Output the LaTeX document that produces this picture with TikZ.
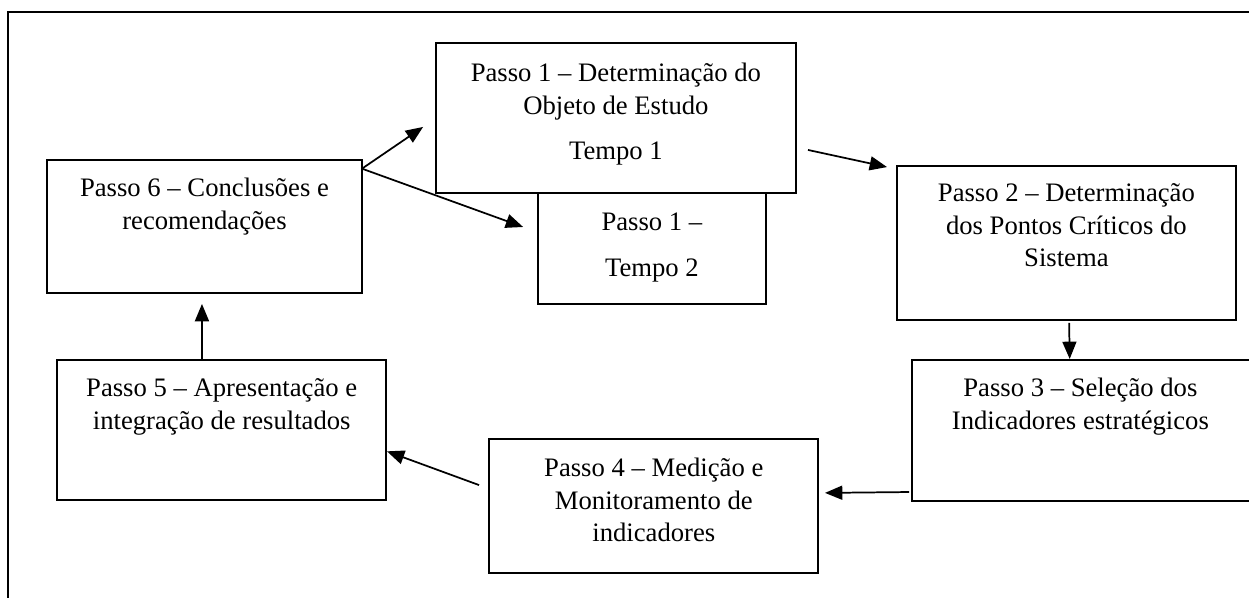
\documentclass[tikz,border=0pt]{standalone}
\usepackage{fontspec}
\setmainfont{Liberation Serif}
\usetikzlibrary{arrows.meta,calc}
\begin{document}
\begin{tikzpicture}[x=0.75pt,y=-0.75pt,
  box/.style={draw, line width=1.5pt, fill=white, inner sep=0pt, outer sep=0pt},
  txt/.style={anchor=north, align=center, inner sep=0pt, font=\fontsize{20}{24.4}\selectfont},
  arr/.style={line width=1.3pt, -{Triangle[length=13pt,width=10.5pt]}}]
\useasboundingbox (0,0) rectangle (1249,598);
\fill[white] (0,0) rectangle (1249,598);
\clip (0,0) rectangle (1249,598);
% outer frame
\draw[line width=1.6pt] (8,620) -- (8,11.7) -- (1270,11.7);
% boxes
\node[box, minimum width=171.2pt, minimum height=89.25pt] (b1b) at (651.9,244.5) {};
\node[box, minimum width=270.2pt, minimum height=112.5pt] (b1) at (615.9,118.3) {};
\node[box, minimum width=236.25pt, minimum height=99.75pt] (b6) at (204.5,226.5) {};
\node[box, minimum width=254pt, minimum height=115.7pt] (b2) at (1066.4,242.9) {};
\node[box, minimum width=255.4pt, minimum height=105.75pt] (b3) at (1082,430.5) {};
\node[box, minimum width=246.75pt, minimum height=100.5pt] (b4) at (653.8,506.3) {};
\node[box, minimum width=246.5pt, minimum height=105pt] (b5) at (221.7,430) {};
% texts
\node[txt] (t1) at ([yshift=-11.6pt]b1.north) {\strut Passo 1 – Determinação do\\Objeto de Estudo\\[9.3pt]Tempo 1};
\node[txt] (t1b) at ([yshift=-16.7pt]b1b.north) {\strut Passo 1 –\\[10.6pt]Tempo 2};
\node[txt] (t6) at ([yshift=-10.3pt]b6.north) {\strut Passo 6 – Conclusões e\\recomendações};
\node[txt] (t2) at ([yshift=-9.7pt]b2.north) {\strut Passo 2 – Determinação\\dos Pontos Críticos do\\Sistema};
\node[txt] (t3) at ([yshift=-10.3pt,xshift=-1.2pt]b3.north) {\strut Passo 3 – Seleção dos\\Indicadores estratégicos};
\node[txt] (t4) at ([yshift=-10.9pt]b4.north) {\strut Passo 4 – Medição e\\Monitoramento de\\indicadores};
\node[txt] (t5) at ([yshift=-10.3pt]b5.north) {\strut Passo 5 – Apresentação e\\integração de resultados};
% arrows
\draw[arr, shorten >=11.5pt] ([yshift=-6.5pt]b6.north east) -- (b1.west);
\draw[arr, shorten >=11.7pt] ([yshift=-6.5pt]b6.north east) -- ([yshift=9.15pt]b1b.west);
\draw[arr, shorten <=9.2pt, shorten >=7.7pt] ([yshift=-21.8pt]b1.east) -- ([yshift=-2.6pt]b2.north west);
\draw[arr, shorten <=2.2pt, shorten >=0.75pt] ([xshift=2pt]b2.south) -- ([xshift=-9.2pt]b3.north);
\draw[arr, shorten <=2pt, shorten >=5pt] ([yshift=6.75pt]b3.south west) -- ([yshift=10pt]b4.east);
\draw[arr, shorten <=8.2pt, shorten >=0.75pt] ([yshift=13.1pt]b4.west) -- ([yshift=-15.75pt]b5.east);
\draw[arr, shorten >=8.2pt] ([xshift=-14.8pt]b5.north) -- ([xshift=-1.9pt]b6.south);
\end{tikzpicture}
\end{document}
